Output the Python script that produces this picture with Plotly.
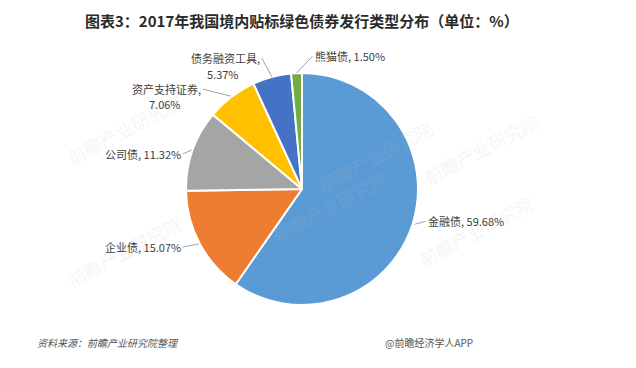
import math
import plotly.graph_objects as go

# ---- data ----
categories = ["金融债", "企业债", "公司债", "资产支持证券", "债务融资工具", "熊猫债"]
values = [59.68, 15.07, 11.32, 7.06, 5.37, 1.50]
title_text = "图表3：2017年我国境内贴标绿色债券发行类型分布（单位：%）"
source_text = "资料来源：前瞻产业研究院整理"
brand_text = "@前瞻经济学人APP"
watermark_text = "前瞻产业研究院"

# ---- style ----
colors = ["#5B9BD5", "#ED7D31", "#A5A5A5", "#FFC000", "#4472C4", "#70AD47"]
wrap = [False, False, False, True, True, False]
# label offsets (pixels) from slice edge, and anchors
label_ax = [11, -16, -9, -28, -10, 16]
label_ay = [-3, 3, 4, -7, -19, -17]
label_xanchor = ["left", "right", "right", "right", "right", "left"]
label_dr = [2, 1, 1, 1, 0, 0]
# second-line offsets (pixels) from slice edge for wrapped labels
line2_dx = [0, 0, 0, -66, -49, 0]
line2_dy = [0, 0, 0, 8, -3, 0]

W, H = 636, 368
CX, CY, R = 302, 189, 116
FONT = "Noto Sans CJK SC, Microsoft YaHei, sans-serif"
LABEL_FONT = dict(family=FONT, size=11, color="#404040")

fig = go.Figure()
fig.add_trace(go.Pie(
    labels=categories,
    values=values,
    sort=False,
    direction="clockwise",
    rotation=0,
    textinfo="none",
    hoverinfo="skip",
    marker=dict(colors=colors, line=dict(color="white", width=2)),
    domain=dict(x=[(CX - R) / W, (CX + R) / W], y=[1 - (CY + R) / H, 1 - (CY - R) / H]),
    showlegend=False,
))

total = sum(values)
annotations = []

# faint watermarks (drawn first, beneath labels)
wm_pos = [(60, 85), (375, 112), (545, 105), (60, 295), (330, 250), (540, 275)]
for (wx, wy) in wm_pos:
    annotations.append(dict(text=watermark_text, x=wx / W, y=1 - wy / H, xref="paper", yref="paper",
                            showarrow=False, textangle=-28,
                            font=dict(family=FONT, size=18, color="rgba(185,185,185,0.16)")))

cum = 0.0
for i, (c, v) in enumerate(zip(categories, values)):
    mid = (cum + v / 2) / total * 2 * math.pi
    cum += v
    r = R + label_dr[i]
    px = CX + r * math.sin(mid)
    py = CY - r * math.cos(mid)
    txt = f"{c}," if wrap[i] else f"{c}, {v:.2f}%"
    annotations.append(dict(
        x=px / W, y=1 - py / H, xref="paper", yref="paper",
        text=txt, showarrow=True, arrowhead=0, arrowwidth=0.8,
        arrowcolor="#8c8c8c", standoff=0, startstandoff=0,
        ax=label_ax[i], ay=label_ay[i], xanchor=label_xanchor[i], yanchor="middle",
        font=LABEL_FONT,
    ))
    if wrap[i]:
        annotations.append(dict(
            x=(px + line2_dx[i]) / W, y=1 - (py + line2_dy[i]) / H, xref="paper", yref="paper",
            text=f"{v:.2f}%", showarrow=False, xanchor="center", yanchor="middle",
            font=LABEL_FONT,
        ))

# title and footer
annotations.append(dict(text=f"<b>{title_text}</b>", x=302 / W, y=1 - 20 / H, xref="paper", yref="paper",
                        showarrow=False, xanchor="center", yanchor="middle",
                        font=dict(family=FONT, size=15, color="#2b2b2b")))
annotations.append(dict(text=f"<i>{source_text}</i>", x=35 / W, y=1 - 342 / H, xref="paper", yref="paper",
                        showarrow=False, xanchor="left", yanchor="middle",
                        font=dict(family=FONT, size=10, color="#555555")))
annotations.append(dict(text=brand_text, x=383 / W, y=1 - 342 / H, xref="paper", yref="paper",
                        showarrow=False, xanchor="left", yanchor="middle",
                        font=dict(family=FONT, size=10, color="#555555")))

fig.update_layout(
    width=W, height=H,
    margin=dict(l=0, r=0, t=0, b=0),
    paper_bgcolor="white", plot_bgcolor="white",
    annotations=annotations,
)
fig.write_html("out.html", config={"displayModeBar": False},
               post_script="document.body.style.margin='0';")
